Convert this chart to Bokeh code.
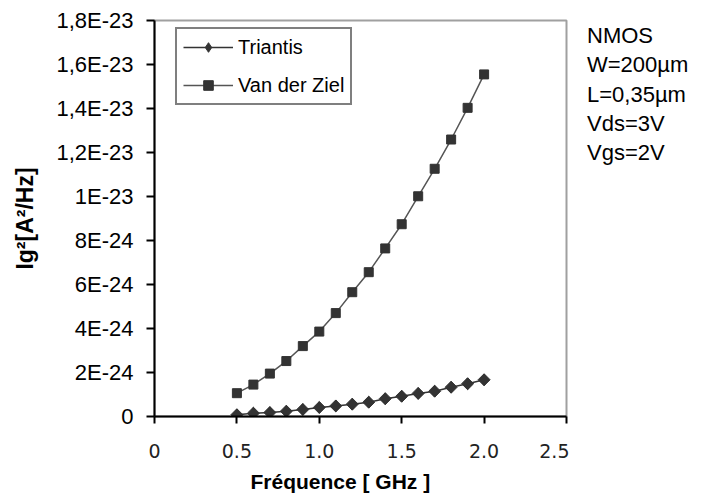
import numpy as np
from bokeh.plotting import figure
from bokeh.layouts import row
from bokeh.models import (FixedTicker, CustomJSTickFormatter, Title, Range1d, Div,
                          Legend, LegendItem)
from bokeh.embed import file_html
from bokeh.resources import INLINE

# ---- data ----
freq_ghz = [0.5, 0.6, 0.7, 0.8, 0.9, 1.0, 1.1, 1.2, 1.3, 1.4, 1.5, 1.6, 1.7, 1.8, 1.9, 2.0]
triantis = [0.08e-24, 0.15e-24, 0.18e-24, 0.24e-24, 0.32e-24, 0.41e-24, 0.48e-24, 0.56e-24,
            0.65e-24, 0.81e-24, 0.92e-24, 1.05e-24, 1.15e-24, 1.33e-24, 1.49e-24, 1.67e-24]
van_der_ziel = [1.06e-24, 1.45e-24, 1.95e-24, 2.52e-24, 3.20e-24, 3.86e-24, 4.70e-24, 5.65e-24,
                6.56e-24, 7.64e-24, 8.74e-24, 10.01e-24, 11.26e-24, 12.59e-24, 14.03e-24, 15.55e-24]

x_ticks = [0, 0.5, 1.0, 1.5, 2.0, 2.5]
x_tick_labels = ["0", "0.5", "1.0", "1.5", "2.0", "2.5"]
y_ticks = [0, 2e-24, 4e-24, 6e-24, 8e-24, 1e-23, 1.2e-23, 1.4e-23, 1.6e-23, 1.8e-23]
y_tick_labels = ["0", "2E-24", "4E-24", "6E-24", "8E-24", "1E-23", "1,2E-23", "1,4E-23", "1,6E-23", "1,8E-23"]
notes = ["NMOS", "W=200\u00b5m", "L=0,35\u00b5m", "Vds=3V", "Vgs=2V"]

FONT = "Liberation Sans"
INK = "#333333"

p = figure(frame_width=412, frame_height=396, output_backend="svg", toolbar_location=None,
           x_range=Range1d(0, 2.5), y_range=Range1d(0, 1.8e-23),
           min_border_left=154, min_border_top=20, min_border_right=3, min_border_bottom=84)
p.grid.visible = False
p.background_fill_color = "white"
p.border_fill_color = "white"
p.outline_line_color = "#a0a0a0"
p.outline_line_width = 2

# series
tri_line = p.line(freq_ghz, triantis, line_color=INK, line_width=1.5)
# diamond glyph (hidden under the rotated squares) used as the legend key
tri_key = p.scatter(freq_ghz, triantis, marker="diamond", size=11.5,
                    fill_color=INK, line_color=INK, line_width=1)
tri_pts = p.scatter(freq_ghz, triantis, marker="square", angle=np.pi / 4, size=8.5,
                    fill_color=INK, line_color=INK)
vdz_line = p.line(freq_ghz, van_der_ziel, line_color="#555555", line_width=1.5)
vdz_pts = p.scatter(freq_ghz, van_der_ziel, marker="square", size=9,
                    fill_color=INK, line_color=INK)

LOOKUP = """
    let best = 0;
    for (let i = 0; i < tvals.length; i++) { if (Math.abs(tvals[i] - tick) < Math.abs(tvals[best] - tick)) best = i; }
    return tlabels[best];
"""

# axes
xa = p.xaxis[0]
xa.ticker = FixedTicker(ticks=x_ticks)
xa.formatter = CustomJSTickFormatter(args=dict(tvals=x_ticks, tlabels=x_tick_labels), code=LOOKUP)
xa.axis_line_color = "black"
xa.axis_line_width = 2
xa.major_tick_line_color = "black"
xa.major_tick_line_width = 2
xa.major_tick_out = 7
xa.major_tick_in = 0
xa.minor_tick_line_color = None
xa.major_label_text_font = "DejaVu Sans"
xa.major_label_text_font_size = "19px"
xa.major_label_text_color = "#222222"
xa.major_label_standoff = 20

ya = p.yaxis[0]
ya.ticker = FixedTicker(ticks=y_ticks)
ya.formatter = CustomJSTickFormatter(args=dict(tvals=y_ticks, tlabels=y_tick_labels), code=LOOKUP)
ya.axis_line_color = "black"
ya.axis_line_width = 2
ya.major_tick_line_color = "black"
ya.major_tick_line_width = 2
ya.major_tick_out = 8
ya.major_tick_in = 0
ya.minor_tick_line_color = None
ya.major_label_text_font = FONT
ya.major_label_text_font_size = "22px"
ya.major_label_text_color = "black"
ya.major_label_standoff = 13
ya.axis_label = "Ig\u00b2[A\u00b2/Hz]"
ya.axis_label_text_font = FONT
ya.axis_label_text_font_size = "23px"
ya.axis_label_text_font_style = "bold"
ya.axis_label_text_color = "black"
ya.axis_label_standoff = 15

p.add_layout(Title(text="Fr\u00e9quence [ GHz ]", align="left", offset=96,
                   text_font=FONT, text_font_size="21px", text_font_style="bold",
                   text_color="black", standoff=15), "below")

# legend
lg = Legend(items=[LegendItem(label="Triantis", renderers=[tri_line, tri_key]),
                   LegendItem(label="Van der Ziel", renderers=[vdz_line, vdz_pts])],
            location=(21, 311))
p.add_layout(lg, "center")
lg.border_line_color = "black"
lg.border_line_width = 2
lg.background_fill_color = "white"
lg.background_fill_alpha = 1
lg.padding = 6
lg.spacing = 14
lg.margin = 0
lg.glyph_width = 50
lg.glyph_height = 24
lg.label_height = 24
lg.label_standoff = 5
lg.label_text_font = FONT
lg.label_text_font_size = "20px"
lg.label_text_color = "black"

# annotation text on the right
div = Div(text="<br>".join(notes), width=118, height=200,
          styles={"font-family": "'Liberation Sans', Arial, sans-serif", "font-size": "22px",
                  "line-height": "29.3px", "color": "black", "margin-top": "21px",
                  "padding-left": "13px"})

layout = row(p, div, spacing=0)
open("out.html", "w").write(file_html(layout, INLINE))
